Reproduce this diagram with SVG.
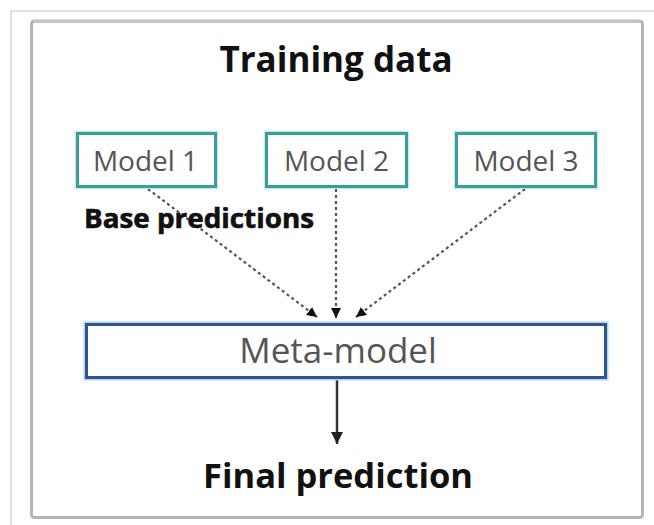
<svg xmlns="http://www.w3.org/2000/svg" width="654" height="525" viewBox="0 0 654 525">
  <defs>
    <style>
      .bold { font-family: "Open Sans", "Liberation Sans", sans-serif; font-weight: 700; fill: #111; text-anchor: middle; }
      .label { font-family: "Open Sans", "Liberation Sans", sans-serif; font-weight: 400; fill: #555; text-anchor: middle; }
      .model-halo { fill: none; stroke: #b8eeee; stroke-width: 5; }
      .model-box { fill: #ffffff; stroke: #3f9c9c; stroke-width: 3; }
      .meta-halo { fill: none; stroke: #b3d4f7; stroke-width: 6; }
      .meta-box { fill: #ffffff; stroke: #2f558f; stroke-width: 3; }
      .dotted { fill: none; stroke: #555; stroke-width: 2.2; stroke-dasharray: 3 3; }
      .solid { fill: none; stroke: #333; stroke-width: 2.5; }
    </style>
    <marker id="arrow" viewBox="0 0 10 10" refX="10" refY="5" markerWidth="10" markerHeight="10" markerUnits="userSpaceOnUse" orient="auto">
      <path d="M0,0 L10,5 L0,10 z" fill="#111"/>
    </marker>
    <marker id="arrowBig" viewBox="0 0 10 10" refX="10" refY="5" markerWidth="12" markerHeight="14" markerUnits="userSpaceOnUse" orient="auto">
      <path d="M0,0 L10,5 L0,10 z" fill="#222"/>
    </marker>
  </defs>

  <rect x="0" y="0" width="654" height="525" fill="#ffffff"/>
  <g id="frame">
    <rect x="11" y="11" width="700" height="600" fill="none" stroke="#e2e2e2" stroke-width="2"/>
    <rect x="31.5" y="21" width="611" height="496.5" rx="3" fill="#ffffff" stroke="#b5b5b5" stroke-width="3"/>
    <line x1="33" y1="21.5" x2="641" y2="21.5" stroke="#c4c4c4" stroke-width="3"/>
  </g>

  <g id="title">
    <text class="bold" x="336" y="72" font-size="35">Training data</text>
  </g>

  <g id="connectors">
    <line class="dotted" x1="148" y1="189" x2="317" y2="317" marker-end="url(#arrow)"/>
    <line class="dotted" x1="336" y1="189" x2="336" y2="318" marker-end="url(#arrow)"/>
    <line class="dotted" x1="525" y1="189" x2="356" y2="317" marker-end="url(#arrow)"/>
    <line class="solid" x1="337" y1="379" x2="337" y2="444" marker-end="url(#arrowBig)"/>
  </g>

  <g id="model1">
    <rect class="model-halo" x="77.5" y="133.5" width="138" height="53"/>
    <rect class="model-box" x="77.5" y="133.5" width="138" height="53"/>
    <text class="label" x="145.5" y="171" font-size="28">Model 1</text>
  </g>
  <g id="model2">
    <rect class="model-halo" x="266.5" y="133.5" width="140" height="53"/>
    <rect class="model-box" x="266.5" y="133.5" width="140" height="53"/>
    <text class="label" x="336.5" y="171" font-size="28">Model 2</text>
  </g>
  <g id="model3">
    <rect class="model-halo" x="456.5" y="133.5" width="139" height="53"/>
    <rect class="model-box" x="456.5" y="133.5" width="139" height="53"/>
    <text class="label" x="526" y="171" font-size="28">Model 3</text>
  </g>

  <g id="base-predictions">
    <text class="bold" x="199" y="228" font-size="26" textLength="230" lengthAdjust="spacingAndGlyphs" stroke="#111" stroke-width="0.6">Base predictions</text>
  </g>

  <g id="meta-model">
    <rect class="meta-halo" x="86.5" y="324.5" width="519" height="53"/>
    <rect class="meta-box" x="86.5" y="324.5" width="519" height="53"/>
    <text class="label" x="338" y="363" font-size="35">Meta-model</text>
  </g>

  <g id="final-prediction">
    <text class="bold" x="338" y="488" font-size="34.5">Final prediction</text>
  </g>
</svg>
